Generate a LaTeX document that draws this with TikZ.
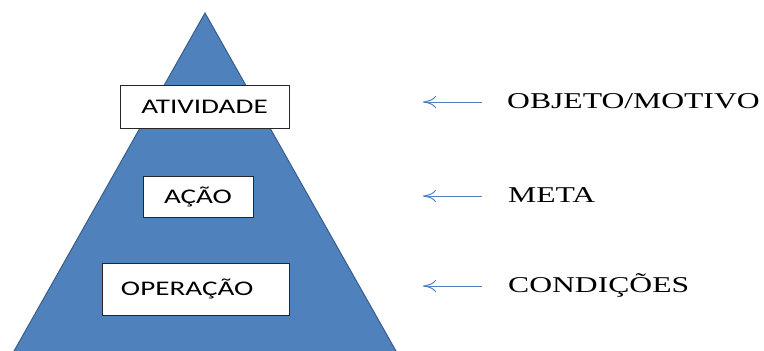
\documentclass[tikz,border=0pt]{standalone}
\usepackage{fontspec}
\setmainfont{Liberation Serif}
\newfontfamily\boxfont{Carlito}
\usetikzlibrary{arrows.meta}
\definecolor{pyrblue}{HTML}{4F81BD}
\definecolor{pyredge}{HTML}{385D8A}
\newcommand\widetext[1]{\scalebox{1.4}[1]{#1}}
\begin{document}
\begin{tikzpicture}[x=1pt,y=-1pt,
  levelbox/.style={draw=black!85,fill=white,line width=0.9pt,inner sep=0pt,font=\boxfont\fontsize{20.8}{22}\selectfont},
  rlabel/.style={anchor=base west,inner sep=0pt,font=\fontsize{22.6}{26}\selectfont},
  larrow/.style={draw=pyrblue,line width=1pt,-{To[length=13pt,width=12pt]}}]
\useasboundingbox (0,0) rectangle (764,351);
\clip (0,0) rectangle (764,351);
\fill[pyrblue,draw=pyredge,line width=1pt] (205,13) -- (-8,390) -- (418,390) -- cycle;
\node[levelbox,minimum width=169pt,minimum height=43pt] (atv) at (204.5,106.5) {\widetext{ATIVIDADE}};
\node[levelbox,minimum width=110pt,minimum height=41pt] (acao) at (198,196.5) {\widetext{AÇÃO}};
\node[levelbox,minimum width=187pt,minimum height=52pt,text width=187pt,align=left] (oper) at (195.5,289) {\hspace*{19pt}\widetext{OPERAÇÃO}};
\node[rlabel] (obj) at (507,108) {\widetext{OBJETO/MOTIVO}};
\node[rlabel] (meta) at (508,202) {\widetext{META}};
\node[rlabel] (cond) at (508,292) {\widetext{CONDIÇÕES}};
\coordinate (a1s) at (482,102); \coordinate (a1e) at (423,102);
\coordinate (a2s) at (482,196); \coordinate (a2e) at (423,196);
\coordinate (a3s) at (482,286); \coordinate (a3e) at (423,286);
\draw[larrow] (a1s) -- (a1e);
\draw[larrow] (a2s) -- (a2e);
\draw[larrow] (a3s) -- (a3e);
\end{tikzpicture}
\end{document}
